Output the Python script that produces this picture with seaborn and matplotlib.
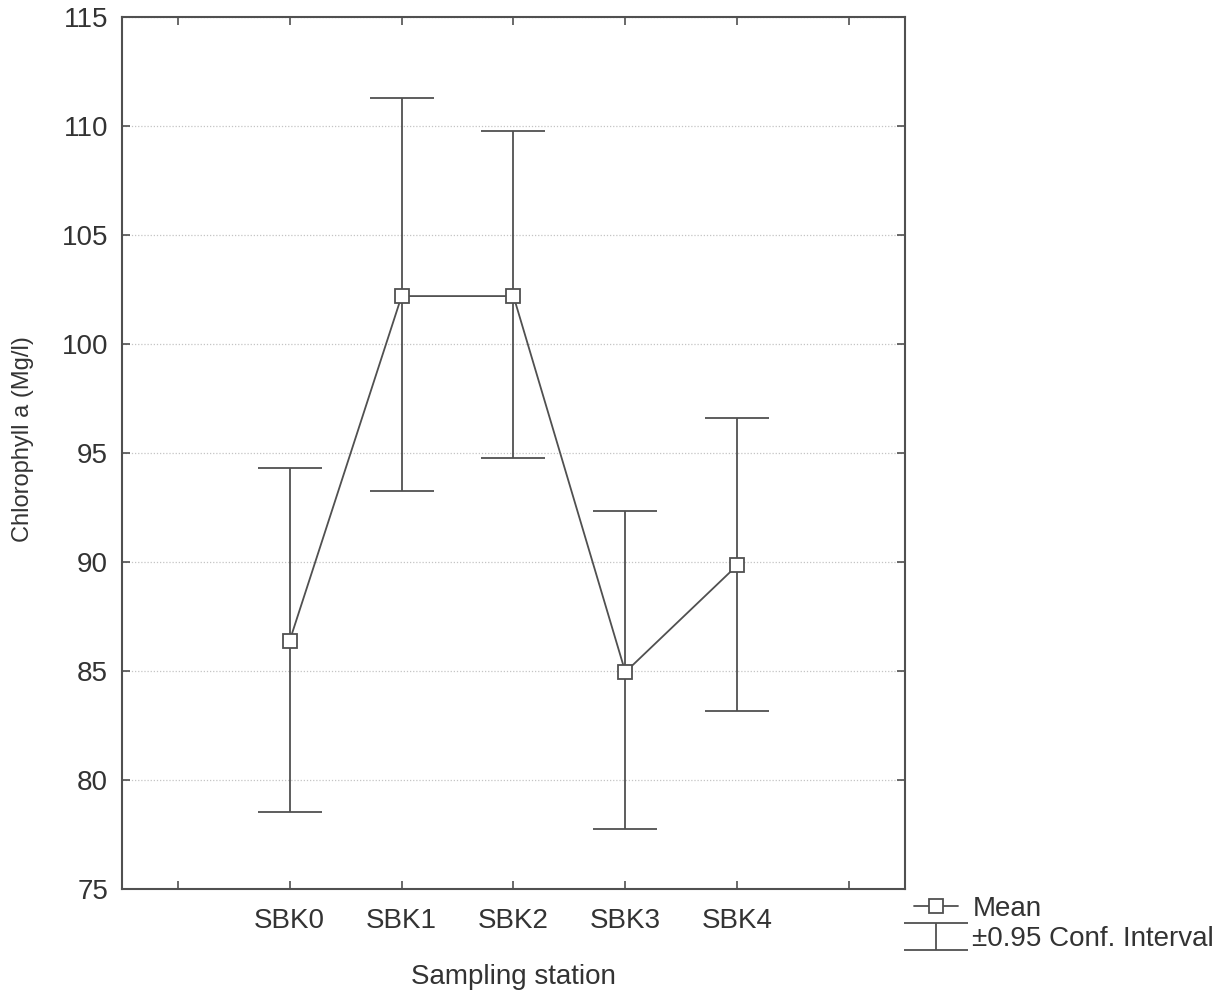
import matplotlib
matplotlib.use("Agg")
import matplotlib.pyplot as plt
import seaborn as sns
import numpy as np
import pandas as pd

stations = ["SBK0", "SBK1", "SBK2", "SBK3", "SBK4"]
means = [86.4, 102.2, 102.2, 84.95, 89.85]
ci_upper = [94.3, 111.3, 109.75, 92.35, 96.6]
ci_lower = [78.55, 93.25, 94.75, 77.75, 83.15]
y_ticks = [75, 80, 85, 90, 95, 100, 105, 110, 115]

sns.set_theme(style="white")
plt.rcParams['font.family'] = ['Liberation Sans', 'DejaVu Sans']

LC = "#505050"
TC = "#333333"
FS = 20

fig = plt.figure(figsize=(12.22, 9.91), dpi=100)
ax = fig.add_axes([0.0998, 0.1029, 0.6408, 0.8799])

df = pd.DataFrame({"station": stations, "mean": means})
pos = np.arange(len(stations))
sns.lineplot(x=pos, y=df["mean"], ax=ax, color=LC, linewidth=1.3,
             marker="s", markersize=10, markerfacecolor="white",
             markeredgecolor=LC, markeredgewidth=1.3, zorder=3,
             label="Mean")

means_a = np.array(means)
yerr = np.vstack([means_a - np.array(ci_lower), np.array(ci_upper) - means_a])
eb = ax.errorbar(pos, means_a, yerr=yerr, fmt="none", ecolor=LC,
                 elinewidth=1.3, capsize=23, capthick=1.3, zorder=2,
                 label="\u00b10.95 Conf. Interval")

ax.set_xlim(-1.5, 5.5)
ax.set_ylim(75, 115)
ax.set_xticks(np.arange(-1, 6))
ax.set_xticklabels([""] + stations + [""])
ax.set_yticks(y_ticks)
ax.set_yticklabels([str(t) for t in y_ticks])
ax.yaxis.grid(True, linestyle=(0, (1, 1.5)), color="#c4c4c4", linewidth=0.9)
ax.xaxis.grid(False)
ax.set_axisbelow(True)

for s in ax.spines.values():
    s.set_visible(True)
    s.set_color(LC)
    s.set_linewidth(1.5)

ax.tick_params(axis="both", which="both", direction="in", length=6,
               width=1.2, color=LC, labelsize=FS, labelcolor=TC,
               top=True, right=True, bottom=True, left=True)
ax.tick_params(axis="x", pad=14)
ax.tick_params(axis="y", pad=10)

ax.set_xlabel("Sampling station", fontsize=FS, color=TC)
ax.xaxis.set_label_coords(0.5, -0.086)
ax.set_ylabel("Chlorophyll a (Mg/l)", fontsize=17, color=TC)
ax.yaxis.set_label_coords(-0.112, 0.516)

handles, labels = ax.get_legend_handles_labels()
ax.legend(handles, labels, loc="upper left",
          bbox_to_anchor=(914 / 1222, 1 - 896 / 991), bbox_transform=fig.transFigure,
          frameon=False, fontsize=FS, labelcolor=TC, handlelength=1.6,
          handletextpad=0.5, borderaxespad=0, borderpad=0, labelspacing=0.15)

fig.savefig("out.png", dpi=100, facecolor="white")
